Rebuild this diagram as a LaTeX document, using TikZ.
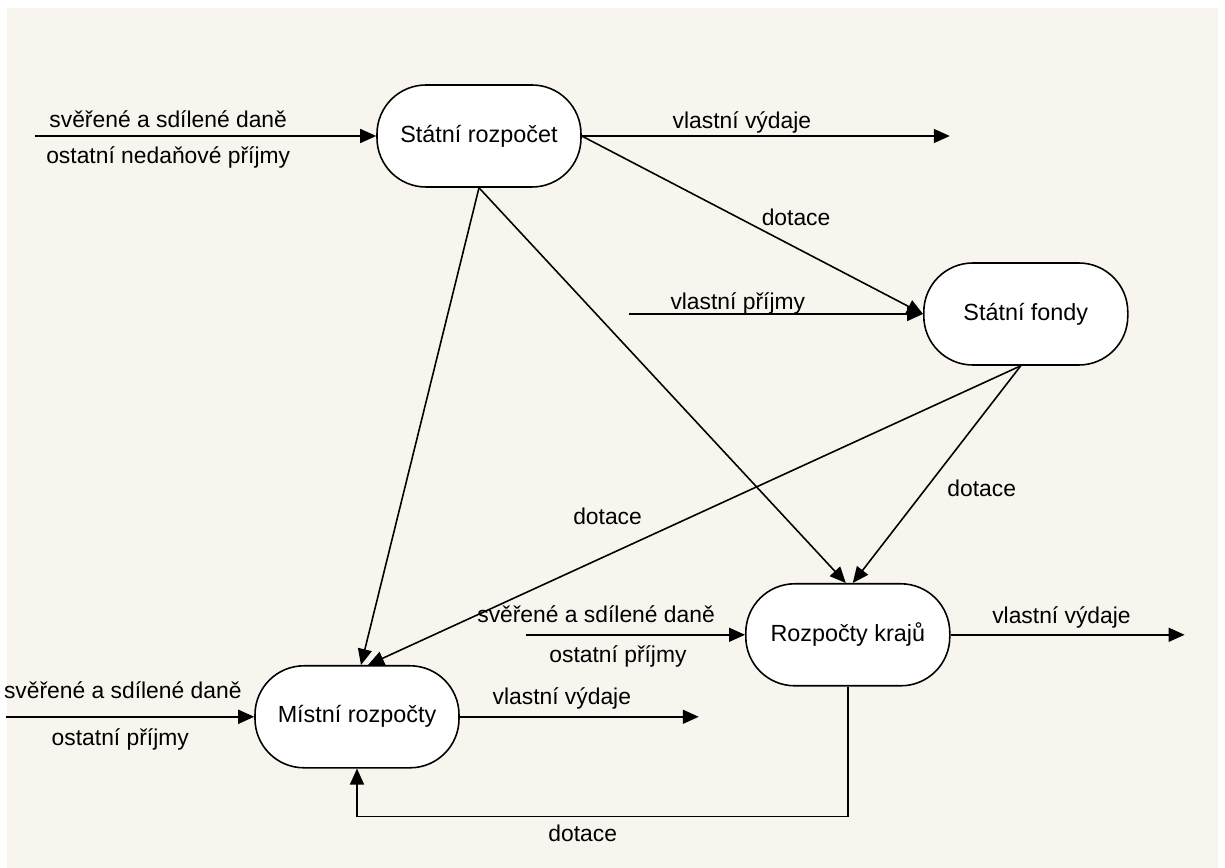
\documentclass[tikz,border=0pt]{standalone}
\usepackage{fontspec}
\setmainfont{Liberation Sans}
\usetikzlibrary{arrows.meta}
\definecolor{cream}{RGB}{248,245,238}

\begin{document}
\begin{tikzpicture}[
        budget/.style={draw, fill=white, line width=0.9pt, rounded corners=0.98cm, minimum width=4.08cm, minimum height=2.04cm, font=\fontsize{13.3}{15}\selectfont},
        flow/.style={-{Triangle[length=0.32cm, width=0.28cm]}, line width=0.9pt},
        lbl/.style={font=\fontsize{13}{15}\selectfont, inner sep=1pt}
    ]
        \useasboundingbox (0,0) rectangle (24.5,-17.36);
        \fill[cream] (0.14,-0.16) rectangle (24.36,-17.36);

        \node[budget] (statni) at (9.58,-2.72) {Státní rozpočet};
        \node[budget] (fondy) at ([xshift=8.88cm, yshift=-3.56cm]statni.east) {Státní fondy};
        \node[budget] (kraje) at ([xshift=-3.56cm, yshift=-5.38cm]fondy.south) {Rozpočty krajů};
        \node[budget] (mistni) at ([xshift=-2.44cm, yshift=-10.58cm]statni.south) {Místní rozpočty};

        \coordinate (statniin) at ([xshift=-6.82cm]statni.west);
        \coordinate (statniout) at ([xshift=7.36cm]statni.east);
        \coordinate (fondyin) at ([xshift=-5.88cm]fondy.west);
        \coordinate (krajein) at ([xshift=-4.38cm]kraje.west);
        \coordinate (krajeout) at ([xshift=4.68cm]kraje.east);
        \coordinate (mistniin) at ([xshift=-4.96cm]mistni.west);
        \coordinate (mistniout) at ([xshift=4.78cm]mistni.east);

        \draw [flow] (statniin) -- (statni.west) node[lbl, pos=0.39, yshift=0.34cm] {svěřené a sdílené daně} node[lbl, pos=0.39, yshift=-0.42cm] {ostatní nedaňové příjmy};
        \draw [flow] (statni.east) -- (statniout) node[lbl, pos=0.435, yshift=0.28cm] {vlastní výdaje};
        \draw [flow] (statni.east) -- (fondy.west) node[lbl, pos=0.52, anchor=south west] {dotace};
        \draw [flow] (fondyin) -- (fondy.west) node[lbl, pos=0.37, yshift=0.22cm] {vlastní příjmy};

        \draw [flow] (statni.south) -- ([xshift=0.08cm]mistni.north);
        \draw [flow] (statni.south) -- ([xshift=-0.04cm]kraje.north);

        \draw [flow] ([xshift=-0.1cm]fondy.south) -- ([xshift=0.1cm]kraje.north) node[lbl, pos=0.565, anchor=west, xshift=0.38cm] {dotace};
        \draw [flow] ([xshift=-0.1cm]fondy.south) -- ([xshift=0.22cm]mistni.north) node[lbl, pos=0.633, yshift=0.78cm] {dotace};

        \draw [flow] (krajein) -- (kraje.west) node[lbl, pos=0.32, yshift=0.42cm] {svěřené a sdílené daně} node[lbl, pos=0.42, yshift=-0.44cm] {ostatní příjmy};
        \draw [flow] (kraje.east) -- (krajeout) node[lbl, pos=0.474, yshift=0.34cm] {vlastní výdaje};

        \draw [flow] (mistniin) -- (mistni.west) node[lbl, pos=0.47, yshift=0.54cm] {svěřené a sdílené daně} node[lbl, pos=0.46, yshift=-0.46cm] {ostatní příjmy};
        \draw [flow] (mistni.east) -- (mistniout) node[lbl, pos=0.427, yshift=0.36cm] {vlastní výdaje};

        \draw [flow] (kraje.south) -- ++(0,-2.6) -| (mistni.south) node[lbl, pos=0.27, yshift=-0.34cm] {dotace};

    \end{tikzpicture}
\end{document}
